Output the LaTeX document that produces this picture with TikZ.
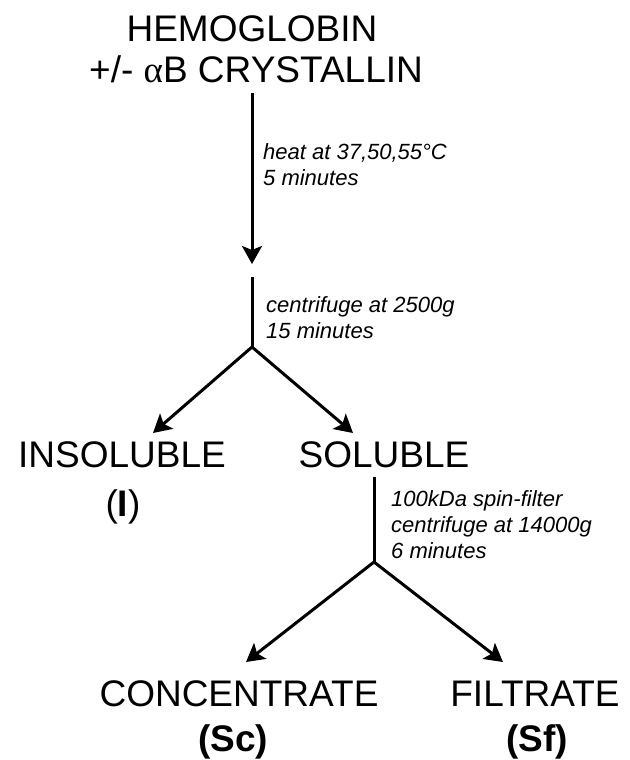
\documentclass[tikz,border=0pt]{standalone}
\usepackage{fontspec}
\setmainfont{Liberation Sans}
\newfontfamily\greekfont{Liberation Serif}
\usetikzlibrary{arrows.meta}

\tikzset{
  title/.style={font=\fontsize{37}{40}\selectfont, inner sep=0pt, anchor=base},
  tag/.style={font=\fontsize{37}{40}\selectfont\bfseries, inner sep=0pt, anchor=base},
  note/.style={font=\fontsize{22}{26}\selectfont\itshape, inner sep=0pt, anchor=base west},
  flow/.style={line width=3pt, draw=black},
  tip/.style={-{Stealth[length=18pt,width=20pt,inset=4pt]}},
  fork/.style={{Stealth[length=18pt,width=20pt,inset=4pt]}-{Stealth[length=18pt,width=20pt,inset=4pt]}, line join=miter},
}

\begin{document}
\begin{tikzpicture}[x=1pt,y=-1pt]
  \useasboundingbox (0,0) rectangle (629,760);

  % starting sample
  \node[title] (hb) at (252,42) {HEMOGLOBIN};
  \node[title] (cry) at (256,82) {+/- {\greekfont α}B CRYSTALLIN};

  % heating step
  \coordinate (s1) at (252,93);
  \coordinate (e1) at (252,264);
  \draw[flow,tip] (s1) -- (e1);
  \node[note] (heat1) at (263,159) {heat at 37,50,55°C};
  \node[note] (heat2) at (263,185) {5 minutes};

  % low-speed spin and first split
  \coordinate (s2) at (252,277);
  \coordinate (j1) at (252,347);
  \coordinate (t1l) at (153,433);
  \coordinate (t1r) at (353,433);
  \draw[flow] (s2) -- (j1);
  \draw[flow,fork] (t1l) -- (j1) -- (t1r);
  \node[note] (spin1) at (266,312) {centrifuge at 2500g};
  \node[note] (spin2) at (266,338) {15 minutes};

  \node[title] (insol) at (122,467) {INSOLUBLE};
  \node[tag] (insoltag) at (123,516) {\mdseries(\bfseries I\mdseries)};
  \node[title] (sol) at (384,467) {SOLUBLE};

  % spin filter and second split
  \coordinate (s3) at (374,477);
  \coordinate (j2) at (374,562);
  \coordinate (t2l) at (246,662);
  \coordinate (t2r) at (503,662);
  \draw[flow] (s3) -- (j2);
  \draw[flow,fork] (t2l) -- (j2) -- (t2r);
  \node[note] (filt1) at (391,506) {100kDa spin-filter};
  \node[note] (filt2) at (391,532) {centrifuge at 14000g};
  \node[note] (filt3) at (391,558) {6 minutes};

  \node[title] (conc) at (239,706) {CONCENTRATE};
  \node[tag] (conctag) at (233,751) {(Sc)};
  \node[title] (filtr) at (535,706) {FILTRATE};
  \node[tag] (filtrtag) at (537,751) {(Sf)};
\end{tikzpicture}
\end{document}
